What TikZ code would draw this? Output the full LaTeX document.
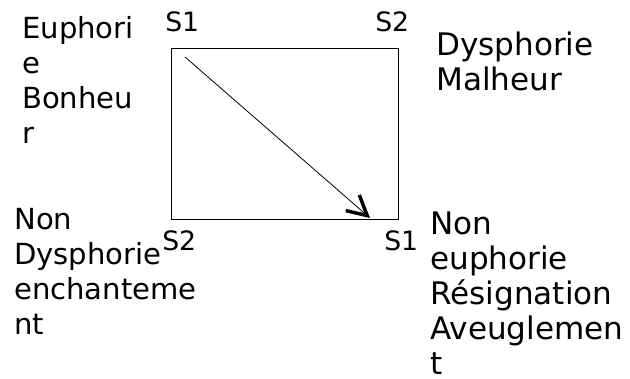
\documentclass[tikz,border=0pt]{standalone}
\usepackage{fontspec}
\setmainfont{DejaVu Sans}
\usetikzlibrary{arrows.meta}
\begin{document}
\begin{tikzpicture}[x=0.75pt,y=-0.75pt,
  lbl/.style={anchor=base west,inner sep=0pt,align=left,font=\fontsize{23.3}{26.25}\selectfont},
  lbll/.style={lbl,font=\fontsize{21.8}{26.25}\selectfont},
  slbl/.style={anchor=base west,inner sep=0pt,font=\fontsize{20}{23}\selectfont},
  box/.style={draw=black,line width=0.75pt},
  conn/.style={line width=0.6pt,-{Straight Barb[length=14.6pt,width=15.5pt,line width=2.6pt]}}]
\useasboundingbox (0,0) rectangle (630,378);
\coordinate (tl) at (171,49);
\coordinate (br) at (398,219);
\draw[box] (tl) rectangle (br);
\coordinate (a) at (185,57);
\coordinate (b) at (370,218);
\draw[conn] (a) -- (b);
\node[slbl] (s1t) at (165,32) {S1};
\node[slbl] (s2t) at (375,32) {S2};
\node[slbl] (s2b) at (162,250) {S2};
\node[slbl] (s1b) at (384,250) {S1};
\node[lbll] (eu) at (22,143) {Euphori\\e\\Bonheu\\r};
\node[lbl] (dy) at (436,90) {Dysphorie\\Malheur};
\node[lbll] (nd) at (14,334) {Non\\Dysphorie\\enchanteme\\nt};
\node[lbl] (ne) at (430,374) {Non\\euphorie\\Résignation\\Aveuglemen\\t};
\end{tikzpicture}
\end{document}
